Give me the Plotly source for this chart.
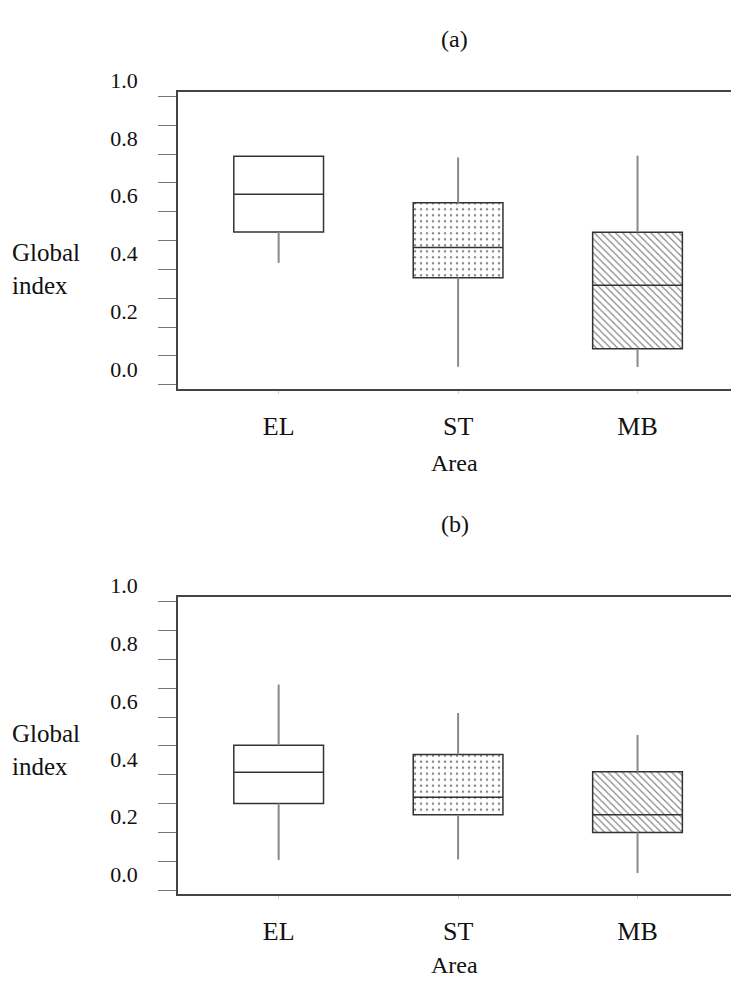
import plotly.graph_objects as go

# ---- data ----
areas = ["EL", "ST", "MB"]
y_ticks = [0.0, 0.1, 0.2, 0.3, 0.4, 0.5, 0.6, 0.7, 0.8, 0.9, 1.0]
y_tick_labels = ["0.0", "", "0.2", "", "0.4", "", "0.6", "", "0.8", "", "1.0"]

a_q1 = [0.530, 0.371, 0.125]
a_median = [0.661, 0.476, 0.345]
a_q3 = [0.792, 0.631, 0.529]
a_low = [0.423, 0.063, 0.062]
a_high = [0.792, 0.788, 0.794]

b_q1 = [0.301, 0.262, 0.200]
b_median = [0.409, 0.322, 0.262]
b_q3 = [0.502, 0.470, 0.411]
b_low = [0.105, 0.107, 0.060]
b_high = [0.713, 0.614, 0.538]

patterns = ["", ".", "\\"]

# ---- styling ----
W, H = 731, 982
FONT = "Liberation Serif"
BOX_W = 0.5
DARK = "#333333"
GRAY = "#8a8a8a"


def py(p):
    return 1 - p / H


def px(p):
    return p / W


fig = go.Figure()


def add_panel(q1, med, q3, low, high, xa, ya):
    pos = list(range(len(areas)))
    # whiskers
    wx, wy = [], []
    for i in pos:
        wx += [i, i, None, i, i, None]
        wy += [low[i], q1[i], None, q3[i], high[i], None]
    fig.add_trace(go.Scatter(x=wx, y=wy, mode="lines", line=dict(color=GRAY, width=2),
                             xaxis=xa, yaxis=ya, showlegend=False, hoverinfo="skip"))
    # box body
    fig.add_trace(go.Bar(x=pos, y=[q3[i] - q1[i] for i in pos], base=q1, width=BOX_W,
                         marker=dict(color="white",
                                     line=dict(color=DARK, width=1.5),
                                     pattern=dict(shape=patterns, fgcolor="#111111",
                                                  size=[6, 6, 5], solidity=[0.1, 0.14, 0.25])),
                         xaxis=xa, yaxis=ya, showlegend=False, hoverinfo="skip"))
    # medians
    mx, my = [], []
    for i in pos:
        mx += [i - BOX_W / 2, i + BOX_W / 2, None]
        my += [med[i], med[i], None]
    fig.add_trace(go.Scatter(x=mx, y=my, mode="lines", line=dict(color=DARK, width=1.5),
                             xaxis=xa, yaxis=ya, showlegend=False, hoverinfo="skip"))


add_panel(a_q1, a_median, a_q3, a_low, a_high, "x", "y")
add_panel(b_q1, b_median, b_q3, b_low, b_high, "x2", "y2")

xcommon = dict(range=[-0.561, 2.521], tickvals=[0, 1, 2], ticktext=areas,
               showline=True, mirror=True, linecolor="#444444", linewidth=1.5,
               ticks="outside", ticklen=3, tickcolor="#cccccc",
               ticklabelstandoff=10,
               showgrid=False, zeroline=False,
               tickfont=dict(family=FONT, size=26, color="#111111"))
ycommon = dict(tickvals=y_ticks, ticktext=y_tick_labels,
               showline=True, linecolor="#444444", linewidth=1.5,
               ticks="outside", ticklen=18, tickcolor="#777777", tickwidth=1.2,
               ticklabelstandoff=34, ticklabelposition="outside top",
               showgrid=False, zeroline=False,
               tickfont=dict(family=FONT, size=22, color="#111111"))

xdom = [px(178), 1.0]
fig.update_layout(
    width=W, height=H,
    margin=dict(l=0, r=0, t=0, b=0),
    plot_bgcolor="white", paper_bgcolor="white",
    barmode="overlay",
    font=dict(family=FONT),
    xaxis=dict(domain=xdom, anchor="y", **xcommon),
    yaxis=dict(domain=[py(374), py(70)], anchor="x", range=[-0.014, 1.014], **ycommon),
    xaxis2=dict(domain=xdom, anchor="y2", **xcommon),
    yaxis2=dict(domain=[py(892), py(587)], anchor="x2", range=[-0.0135, 1.017], **ycommon),
)

ann_font = dict(family=FONT, size=24, color="#111111")
anns = [
    dict(text="(a)", x=px(454.5), y=py(15)),
    dict(text="Area", x=px(454.5), y=py(450)),
    dict(text="(b)", x=px(454.5), y=py(513)),
    dict(text="Area", x=px(454.5), y=py(965)),
]
for a in anns:
    fig.add_annotation(xref="paper", yref="paper", showarrow=False,
                       xanchor="center", yanchor="middle", font=ann_font, **a)
for yc in (251, 744):
    fig.add_annotation(xref="paper", yref="paper", showarrow=False,
                       x=px(10), y=py(yc), xanchor="left", yanchor="middle", align="left",
                       text="Global<br>index", font=dict(family=FONT, size=25, color="#111111"))

fig.write_html("out.html",
               config={"displayModeBar": False},
               post_script="document.body.style.margin='0';"
                           "document.documentElement.style.overflow='hidden';")
